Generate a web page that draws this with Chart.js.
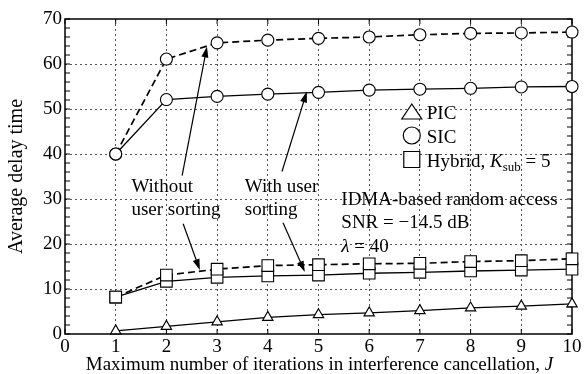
<!DOCTYPE html>
<html>
<head>
<meta charset="utf-8">
<script src="https://cdn.jsdelivr.net/npm/chart.js@4.4.1/dist/chart.umd.min.js"></script>
<style>
  html, body { margin: 0; padding: 0; background: #fff; }
</style>
</head>
<body>
<canvas id="delayChart" width="584" height="374"></canvas>
<script>
// values
const iterations = [1, 2, 3, 4, 5, 6, 7, 8, 9, 10];
const picDelay = [0.7, 1.7, 2.7, 3.7, 4.3, 4.7, 5.2, 5.8, 6.2, 6.7];
const sicUnsorted = [40, 61.1, 64.7, 65.3, 65.7, 66.0, 66.5, 66.8, 66.9, 67.1];
const sicSorted = [40, 52.1, 52.8, 53.3, 53.7, 54.2, 54.4, 54.6, 54.9, 55.0];
const hybridUnsorted = [8.2, 13.1, 14.4, 15.2, 15.4, 15.6, 15.7, 16.1, 16.3, 16.7];
const hybridSorted = [8.2, 11.7, 12.6, 12.9, 13.1, 13.5, 13.7, 14.0, 14.2, 14.4];
const xTickLabels = [0, 1, 2, 3, 4, 5, 6, 7, 8, 9, 10];
const yTickLabels = [0, 10, 20, 30, 40, 50, 60, 70];
const legendNames = ['PIC', 'SIC', 'Hybrid, '];

const FONT = "'Liberation Serif', 'Times New Roman', serif";
const gridColor = '#555';

function pts(vals) {
  return iterations.map((x, i) => ({ x: x, y: vals[i] }));
}

function series(label, vals, style, radius, dashed) {
  return {
    label: label,
    data: pts(vals),
    borderColor: '#000',
    borderWidth: dashed ? 1.7 : 1.3,
    borderDash: dashed ? [7, 4] : [],
    pointStyle: style,
    pointRadius: radius,
    pointBackgroundColor: '#fff',
    pointBorderColor: '#000',
    pointBorderWidth: 1.1,
    tension: 0,
    clip: false
  };
}

function arrow(ctx, x1, y1, x2, y2) {
  const a = Math.atan2(y2 - y1, x2 - x1);
  const L = 11, W = 3.5;
  const c = Math.cos(a), s = Math.sin(a);
  ctx.beginPath();
  ctx.moveTo(x1, y1);
  ctx.lineTo(x2 - L * 0.8 * c, y2 - L * 0.8 * s);
  ctx.stroke();
  ctx.beginPath();
  ctx.moveTo(x2, y2);
  ctx.lineTo(x2 - L * c + W * s, y2 - L * s - W * c);
  ctx.lineTo(x2 - L * c - W * s, y2 - L * s + W * c);
  ctx.closePath();
  ctx.fill();
}

function marker(ctx, style, x, y) {
  ctx.beginPath();
  if (style === 'triangle') {
    ctx.moveTo(x, y - 7.5);
    ctx.lineTo(x + 10, y + 7.5);
    ctx.lineTo(x - 10, y + 7.5);
    ctx.closePath();
  } else if (style === 'circle') {
    ctx.arc(x, y, 8.5, 0, Math.PI * 2);
  } else {
    ctx.rect(x - 8, y - 8, 16, 16);
  }
  ctx.fillStyle = '#fff';
  ctx.fill();
  ctx.lineWidth = 1.2;
  ctx.strokeStyle = '#000';
  ctx.stroke();
}

const frame = {
  id: 'frame',
  beforeDatasetsDraw(chart) {
    const { ctx, chartArea: a, scales } = chart;
    ctx.save();
    ctx.strokeStyle = '#000';
    ctx.lineWidth = 1;
    // minor ticks inside the box
    for (let v = 0; v <= 70; v += 2) {
      const y = scales.y.getPixelForValue(v);
      ctx.beginPath();
      ctx.moveTo(a.left, y); ctx.lineTo(a.left + 5, y);
      ctx.moveTo(a.right, y); ctx.lineTo(a.right - 5, y);
      ctx.stroke();
    }
    xTickLabels.forEach(v => {
      const x = scales.x.getPixelForValue(v);
      ctx.beginPath();
      ctx.moveTo(x, a.bottom); ctx.lineTo(x, a.bottom - 5);
      ctx.moveTo(x, a.top); ctx.lineTo(x, a.top + 5);
      ctx.stroke();
    });
    ctx.lineWidth = 1.5;
    ctx.strokeRect(a.left, a.top, a.right - a.left, a.bottom - a.top);
    ctx.restore();
  },
  afterDatasetsDraw(chart) {
    const { ctx, chartArea: a, scales } = chart;
    const px = v => scales.x.getPixelForValue(v);
    const py = v => scales.y.getPixelForValue(v);
    ctx.save();
    ctx.fillStyle = '#000';
    ctx.strokeStyle = '#000';
    ctx.lineWidth = 1.2;

    // arrows
    arrow(ctx, px(2.31), py(35.2), px(2.80), py(63.9));
    arrow(ctx, px(2.33), py(24.5), px(2.66), py(14.2));
    arrow(ctx, px(4.28), py(36.1), px(4.77), py(53.9));
    arrow(ctx, px(4.30), py(24.7), px(4.73), py(13.8));

    ctx.font = '19px ' + FONT;
    ctx.textAlign = 'left';
    ctx.textBaseline = 'alphabetic';
    ctx.fillText('Without', px(1.31), 192);
    ctx.fillText('user sorting', px(1.31), 215);
    ctx.fillText('With user', px(3.545), 192);
    ctx.fillText('sorting', px(3.545), 215);

    const tx = px(5.45);
    ctx.fillText('IDMA-based random access', tx, 205);
    ctx.fillText('SNR = \u221214.5 dB', tx, 228);
    ctx.font = 'italic 19px ' + FONT;
    ctx.fillText('\u03bb', tx, 252);
    const lw = ctx.measureText('\u03bb').width;
    ctx.font = '19px ' + FONT;
    ctx.fillText(' = 40', tx + lw, 252);

    // legend
    const mx = px(6.84);
    const lx = mx + 15;
    const styles = ['triangle', 'circle', 'rect'];
    const rows = [119, 143, 167];
    styles.forEach((st, i) => marker(ctx, st, mx, rows[i] - 7.5));
    ctx.fillStyle = '#000';
    ctx.font = '19px ' + FONT;
    ctx.fillText(legendNames[0], lx, rows[0]);
    ctx.fillText(legendNames[1], lx, rows[1]);
    let x = lx;
    ctx.fillText(legendNames[2], x, rows[2]);
    x += ctx.measureText(legendNames[2]).width;
    ctx.font = 'italic 19px ' + FONT;
    ctx.fillText('K', x, rows[2]);
    x += ctx.measureText('K').width;
    ctx.font = '13px ' + FONT;
    ctx.fillText('sub', x, rows[2] + 4);
    x += ctx.measureText('sub').width;
    ctx.font = '19px ' + FONT;
    ctx.fillText(' = 5', x, rows[2]);

    // x axis title with italic J
    const t1 = 'Maximum number of iterations in interference cancellation, ';
    ctx.font = '19px ' + FONT;
    const w1 = ctx.measureText(t1).width;
    ctx.font = 'italic 19px ' + FONT;
    const w2 = ctx.measureText('J').width;
    let sx = (a.left + a.right) / 2 - (w1 + w2) / 2 + 1;
    ctx.font = '19px ' + FONT;
    ctx.fillText(t1, sx, 370);
    ctx.font = 'italic 19px ' + FONT;
    ctx.fillText('J', sx + w1, 370);
    ctx.restore();
  }
};

const ctx = document.getElementById('delayChart');
const delayChart = new Chart(ctx, {
  type: 'line',
  data: {
    datasets: [
      series('PIC', picDelay, 'triangle', 6, false),
      series('SIC without sorting', sicUnsorted, 'circle', 6, true),
      series('SIC with sorting', sicSorted, 'circle', 6, false),
      series('Hybrid without sorting', hybridUnsorted, 'rect', 8.2, true),
      series('Hybrid with sorting', hybridSorted, 'rect', 8.2, false)
    ]
  },
  options: {
    responsive: false,
    animation: false,
    layout: { padding: { top: 19, right: 12, left: 0, bottom: 0 } },
    plugins: {
      legend: { display: false },
      tooltip: { enabled: false }
    },
    scales: {
      x: {
        type: 'linear',
        min: 0,
        max: 10,
        afterFit: s => { s.height = 40; },
        ticks: {
          stepSize: 1,
          padding: 2,
          color: '#000',
          font: { family: FONT, size: 19 },
          callback: v => xTickLabels.includes(v) ? v : ''
        },
        grid: {
          drawTicks: false,
          lineWidth: 1,
          color: c => (c.tick && c.tick.value > 0 && c.tick.value < 10) ? gridColor : 'rgba(0,0,0,0)'
        },
        border: { display: false, dash: [2, 3] }
      },
      y: {
        min: 0,
        max: 70,
        afterFit: s => { s.width = 65; },
        ticks: {
          stepSize: 2,
          autoSkip: false,
          padding: 3,
          color: '#000',
          font: { family: FONT, size: 19 },
          callback: v => yTickLabels.includes(v) ? v : ''
        },
        grid: {
          drawTicks: false,
          lineWidth: 1,
          color: c => (c.tick && c.tick.value % 10 === 0 && c.tick.value > 0 && c.tick.value < 70) ? gridColor : 'rgba(0,0,0,0)'
        },
        border: { display: false, dash: [2, 3] },
        title: {
          display: true,
          text: 'Average delay time',
          color: '#000',
          font: { family: FONT, size: 20 },
          padding: { top: 5, bottom: 0 }
        }
      }
    }
  },
  plugins: [frame]
});
</script>
</body>
</html>
